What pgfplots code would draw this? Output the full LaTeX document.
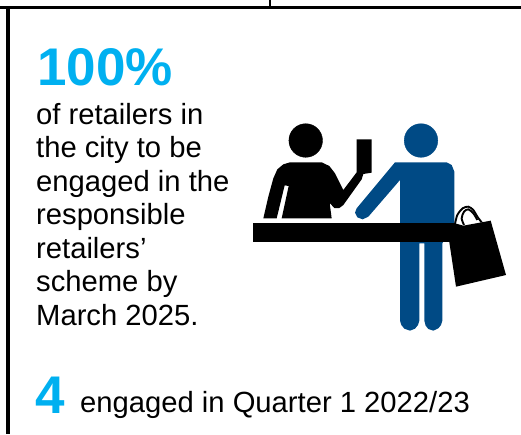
\documentclass[border=0pt]{standalone}
\usepackage{fontspec}
\setmainfont{Liberation Sans}
\usepackage{pgfplots}
\usepackage{pgfplotstable}
\pgfplotsset{compat=1.18}
\definecolor{skyb}{HTML}{00B0F0}
\definecolor{navy}{HTML}{004A85}

% icon outlines, in pixels of the zoomed crop (3x, offset 240,110)
\pgfplotstableread{
x y
70 325
85 260
100 205
112 178
130 163
150 157
245 157
268 168
285 190
310 240
350 187
350 88
395 88
395 188
370 192
365 208
310 285
298 294
283 294
270 280
250 228
262 226
275 325
125 325
146 228
134 226
110 325
}\clerk
\pgfplotstableread{
x y
465 157
620 157
635 165
643 185
643 340
607 400
607 632
603 645
595 655
580 662
565 657
557 647
553 632
553 400
538 400
538 632
534 645
525 656
510 662
493 656
484 645
480 632
480 210
385 320
368 328
352 322
345 308
350 295
}\customer
\pgfplotstableread{
x y
38 340
645 340
645 397
38 397
}\desk
\pgfplotstableread{
x y
628 397
648 530
798 495
752 332
670 347
645 340
}\bag
\pgfplotstableread{
x y
645 342
652 315
668 295
685 290
700 300
712 320
725 337
}\handlea
\pgfplotstableread{
x y
672 345
665 325
672 305
685 298
700 310
712 330
}\handleb

\newcommand{\bodyline}[2]{\node[anchor=base west, inner sep=0pt, font=\fontsize{29.2}{33}\selectfont] at (axis cs:36,#1) {#2};}

\begin{document}
\begin{tikzpicture}
\begin{axis}[
  width=521pt, height=434pt, scale only axis,
  xmin=0, xmax=521, ymin=0, ymax=434, y dir=reverse,
  hide axis, clip=true,
  icon/.style={draw=none, fill=#1},
  hand/.style={black, line width=1.9pt, smooth, no marks},
  table/x expr=\thisrow{x}/3+240, table/y expr=\thisrow{y}/3+110,
]
% frame
\addplot[black, line width=2.8pt, no marks] coordinates {(0,7.2) (521,7.2)};
\addplot[black, line width=3.6pt, no marks] coordinates {(7.7,7) (7.7,434)};
\addplot[black, line width=2.4pt, no marks] coordinates {(270,0) (270,7)};
% customer
\addplot[icon=navy] table {\customer} -- cycle;
\addplot[only marks, mark=*, mark size=16.8pt, color=navy] coordinates {(421,140.5)};
% clerk
\addplot[icon=black] table {\clerk} -- cycle;
\addplot[only marks, mark=*, mark size=16.8pt, color=black] coordinates {(305.7,140.5)};
% counter and bag
\addplot[icon=black] table {\desk} -- cycle;
\addplot[icon=black] table {\bag} -- cycle;
\addplot[hand] table {\handlea};
\addplot[hand] table {\handleb};
% text
\node[anchor=base west, inner sep=0pt, text=skyb, font=\fontsize{53}{56}\selectfont\bfseries] at (axis cs:37,85) {100\%};
\bodyline{124}{of retailers in}
\bodyline{157}{the city to be}
\bodyline{191}{engaged in the}
\bodyline{224}{responsible}
\bodyline{258}{retailers’}
\bodyline{291}{scheme by}
\bodyline{325}{March 2025.}
\node[anchor=base west, inner sep=0pt, text=skyb, font=\fontsize{53}{56}\selectfont\bfseries] at (axis cs:35,413) {4};
\node[anchor=base west, inner sep=0pt, font=\fontsize{29.2}{33}\selectfont] at (axis cs:80,412) {engaged in Quarter 1 2022/23};
\end{axis}
\end{tikzpicture}
\end{document}
